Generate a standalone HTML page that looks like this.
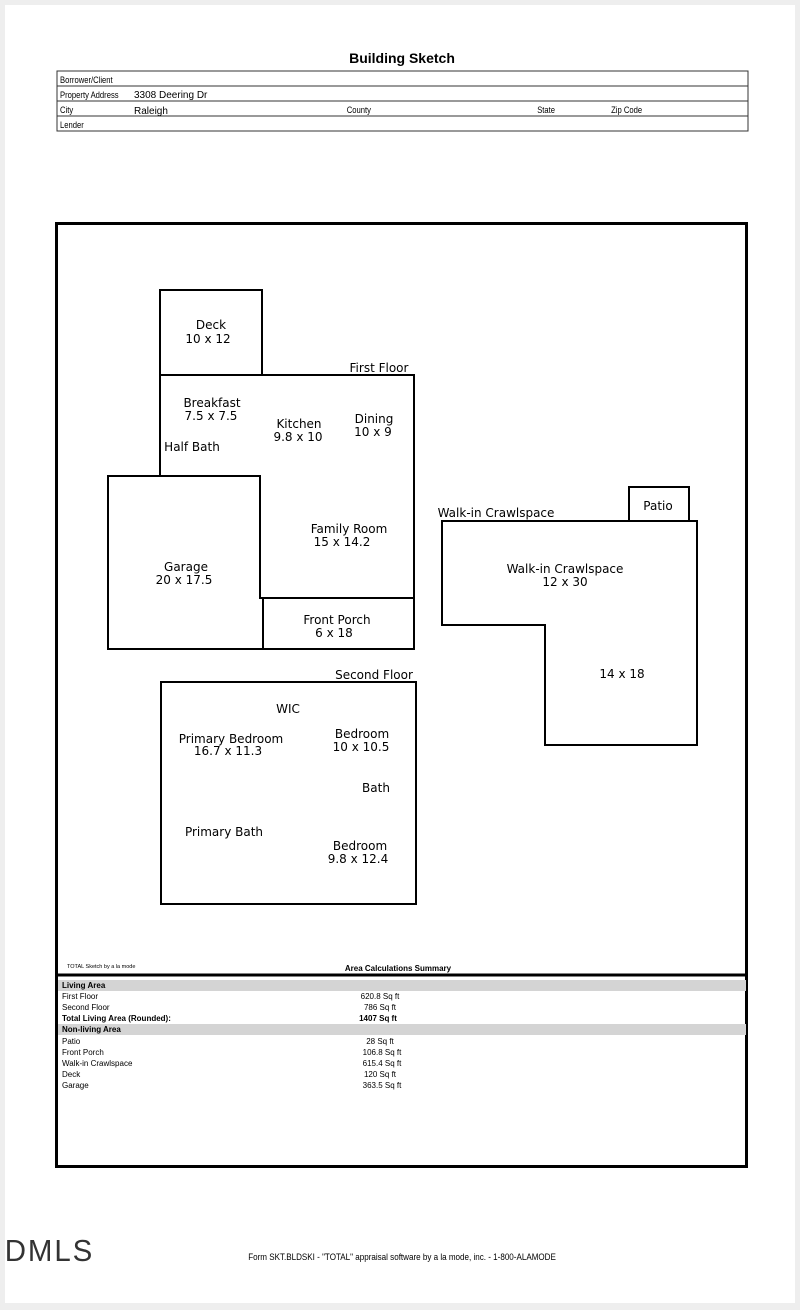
<!DOCTYPE html>
<html><head><style>
html,body{margin:0;padding:0;background:#eee}
.pg{position:absolute;left:5px;top:5px;width:790px;height:1298px;background:#fff}
svg{position:absolute;left:0;top:0}
</style></head><body>
<div class="pg"></div>
<svg width="800" height="1310" xmlns="http://www.w3.org/2000/svg" font-family="Liberation Sans, sans-serif">
<text x="402" y="63" font-size="14" font-weight="bold" text-anchor="middle">Building Sketch</text>
<g stroke="#333" fill="none" stroke-width="1">
<rect x="57" y="71" width="691" height="60"/>
<line x1="57" y1="86" x2="748" y2="86"/><line x1="57" y1="101" x2="748" y2="101"/><line x1="57" y1="116" x2="748" y2="116"/>
</g>
<g font-size="9" transform="scale(0.85,1)">
<text x="70.6" y="83">Borrower/Client</text>
<text x="70.6" y="98">Property Address</text>
<text x="70.6" y="113">City</text>
<text x="408" y="113">County</text>
<text x="632" y="113">State</text>
<text x="719" y="113">Zip Code</text>
<text x="70.6" y="128">Lender</text>
</g>
<text x="134" y="98" font-size="10">3308 Deering Dr</text>
<text x="134" y="114" font-size="10">Raleigh</text>

<rect x="56.5" y="223.5" width="690" height="943" fill="none" stroke="#000" stroke-width="3"/>
<line x1="56" y1="975" x2="747" y2="975" stroke="#000" stroke-width="3"/>
<rect x="58" y="980" width="688" height="11" fill="#d4d4d4"/>
<rect x="58" y="1024" width="688" height="11" fill="#d4d4d4"/>
<text x="67" y="968" font-size="5.5">TOTAL Sketch by a la mode</text>
<text x="398" y="971" font-size="8" font-weight="bold" text-anchor="middle">Area Calculations Summary</text>
<g font-size="8">
<text x="62" y="988" font-weight="bold">Living Area</text>
<text x="62" y="999">First Floor</text><text x="380" y="999" text-anchor="middle">620.8 Sq ft</text>
<text x="62" y="1010">Second Floor</text><text x="380" y="1010" text-anchor="middle">786 Sq ft</text>
<text x="62" y="1021" font-weight="bold">Total Living Area (Rounded):</text><text x="378" y="1021" text-anchor="middle" font-weight="bold">1407 Sq ft</text>
<text x="62" y="1032" font-weight="bold">Non-living Area</text>
<text x="62" y="1044">Patio</text><text x="380" y="1044" text-anchor="middle">28 Sq ft</text>
<text x="62" y="1055">Front Porch</text><text x="382" y="1055" text-anchor="middle">106.8 Sq ft</text>
<text x="62" y="1066">Walk-in Crawlspace</text><text x="382" y="1066" text-anchor="middle">615.4 Sq ft</text>
<text x="62" y="1077">Deck</text><text x="380" y="1077" text-anchor="middle">120 Sq ft</text>
<text x="62" y="1088">Garage</text><text x="382" y="1088" text-anchor="middle">363.5 Sq ft</text>
</g>

<g stroke="#000" stroke-width="2" fill="none">
<rect x="160" y="290" width="102" height="85"/>
<polyline points="160,375 414,375 414,649 263,649"/>
<polyline points="160,375 160,476"/>
<polygon points="108,476 260,476 260,598 263,598 263,649 108,649"/>
<line x1="260" y1="598" x2="414" y2="598"/>
<polygon points="442,521 697,521 697,745 545,745 545,625 442,625"/>
<rect x="629" y="487" width="60" height="34"/>
<rect x="161" y="682" width="255" height="222"/>
</g>
<g text-anchor="middle" font-family="DejaVu Sans, sans-serif" font-size="12">
<text x="211" y="329">Deck</text><text x="208" y="343">10 x 12</text>
<text x="379" y="372">First Floor</text>
<text x="212" y="407">Breakfast</text><text x="211" y="420">7.5 x 7.5</text>
<text x="299" y="428">Kitchen</text><text x="298" y="441">9.8 x 10</text>
<text x="374" y="423">Dining</text><text x="373" y="436">10 x 9</text>
<text x="192" y="451">Half Bath</text>
<text x="349" y="533">Family Room</text><text x="342" y="546">15 x 14.2</text>
<text x="186" y="571">Garage</text><text x="184" y="584">20 x 17.5</text>
<text x="337" y="624">Front Porch</text><text x="334" y="637">6 x 18</text>
<text x="496" y="517">Walk-in Crawlspace</text>
<text x="658" y="510">Patio</text>
<text x="565" y="573">Walk-in Crawlspace</text><text x="565" y="586">12 x 30</text>
<text x="622" y="678">14 x 18</text>
<text x="374" y="679">Second Floor</text>
<text x="288" y="713">WIC</text>
<text x="231" y="743">Primary Bedroom</text><text x="228" y="755">16.7 x 11.3</text>
<text x="362" y="738">Bedroom</text><text x="361" y="751">10 x 10.5</text>
<text x="376" y="792">Bath</text>
<text x="224" y="836">Primary Bath</text>
<text x="360" y="850">Bedroom</text><text x="358" y="863">9.8 x 12.4</text>
</g>
<text x="473" y="1260" font-size="9.5" text-anchor="middle" transform="scale(0.85,1)">Form SKT.BLDSKI - "TOTAL" appraisal software by a la mode, inc. - 1-800-ALAMODE</text>
<text x="5" y="1261" font-size="31" fill="#333" letter-spacing="2" transform="scale(0.95,1)" style="font-weight:100;stroke:none">DMLS</text>
</svg>
</body></html>
